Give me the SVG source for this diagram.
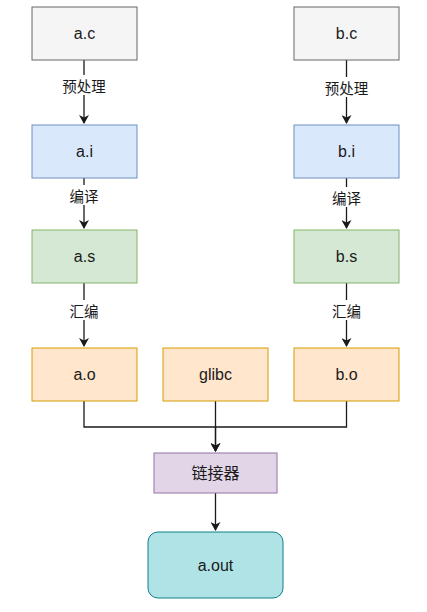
<svg xmlns="http://www.w3.org/2000/svg" width="427" height="612" viewBox="0 0 427 612">
<style>
.t{font-family:"Liberation Sans","Noto Sans CJK SC",sans-serif;font-size:16px;fill:#1a1a1a;text-anchor:middle;dominant-baseline:central}
.l{font-family:"Noto Sans CJK SC","Liberation Sans",sans-serif;font-size:14.5px;fill:#1a1a1a;text-anchor:middle;dominant-baseline:central}
.e{fill:none;stroke:#1a1a1a;stroke-width:1.3}
.bg{fill:#ffffff}
</style>
<defs>
<marker id="ar" markerWidth="10" markerHeight="10" refX="8" refY="5" orient="auto" markerUnits="userSpaceOnUse">
<path d="M0,0 L9,5 L0,10 L2.5,5 Z" fill="#1a1a1a"/>
</marker>
</defs>
<rect width="427" height="612" fill="#ffffff"/>
<g id="connectors">
<path class="e" d="M84,60 V123" marker-end="url(#ar)"/>
<path class="e" d="M84,178 V228" marker-end="url(#ar)"/>
<path class="e" d="M84,283 V346" marker-end="url(#ar)"/>
<path class="e" d="M346.5,60 V123" marker-end="url(#ar)"/>
<path class="e" d="M346.5,178 V228" marker-end="url(#ar)"/>
<path class="e" d="M346.5,283 V346" marker-end="url(#ar)"/>
<path class="e" d="M84,401 V427 H215.5 V451" marker-end="url(#ar)"/>
<path class="e" d="M346.5,401 V427 H215.5"/>
<path class="e" d="M215.5,401 V451" marker-end="url(#ar)"/>
<path class="e" d="M215.5,493 V530" marker-end="url(#ar)"/>
<rect class="bg" x="59" y="75" width="50" height="20"/>
<text class="l" x="84" y="85">预处理</text>
<rect class="bg" x="321.5" y="77" width="50" height="20"/>
<text class="l" x="346.5" y="87">预处理</text>
<rect class="bg" x="67" y="185" width="34" height="20"/>
<text class="l" x="84" y="195">编译</text>
<rect class="bg" x="329.5" y="187" width="34" height="20"/>
<text class="l" x="346.5" y="197">编译</text>
<rect class="bg" x="67" y="300" width="34" height="20"/>
<text class="l" x="84" y="310">汇编</text>
<rect class="bg" x="329.5" y="300" width="34" height="20"/>
<text class="l" x="346.5" y="310">汇编</text>
</g>
<g id="a_c"><rect x="32" y="7" width="105" height="53" fill="#f5f5f5" stroke="#666666"/><text class="t" x="84.5" y="33.5">a.c</text></g>
<g id="b_c"><rect x="294" y="7" width="105" height="53" fill="#f5f5f5" stroke="#666666"/><text class="t" x="346.5" y="33.5">b.c</text></g>
<g id="a_i"><rect x="32" y="125" width="105" height="53" fill="#dae8fc" stroke="#6c8ebf"/><text class="t" x="84.5" y="151.5">a.i</text></g>
<g id="b_i"><rect x="294" y="125" width="105" height="53" fill="#dae8fc" stroke="#6c8ebf"/><text class="t" x="346.5" y="151.5">b.i</text></g>
<g id="a_s"><rect x="32" y="230" width="105" height="53" fill="#d5e8d4" stroke="#82b366"/><text class="t" x="84.5" y="256.5">a.s</text></g>
<g id="b_s"><rect x="294" y="230" width="105" height="53" fill="#d5e8d4" stroke="#82b366"/><text class="t" x="346.5" y="256.5">b.s</text></g>
<g id="a_o"><rect x="32" y="348" width="105" height="53" fill="#ffe6cc" stroke="#d79b00"/><text class="t" x="84.5" y="374.5">a.o</text></g>
<g id="glibc"><rect x="163" y="348" width="105" height="53" fill="#ffe6cc" stroke="#d79b00"/><text class="t" x="215.5" y="374.5">glibc</text></g>
<g id="b_o"><rect x="294" y="348" width="105" height="53" fill="#ffe6cc" stroke="#d79b00"/><text class="t" x="346.5" y="374.5">b.o</text></g>
<g id="linker"><rect x="154" y="453" width="123" height="40" fill="#e1d5e7" stroke="#9673a6"/><text class="t" x="215.5" y="473">链接器</text></g>
<g id="a_out"><rect x="148" y="532" width="135" height="66" rx="10" fill="#b0e3e6" stroke="#0e8088"/><text class="t" x="215.5" y="565">a.out</text></g>
</svg>
